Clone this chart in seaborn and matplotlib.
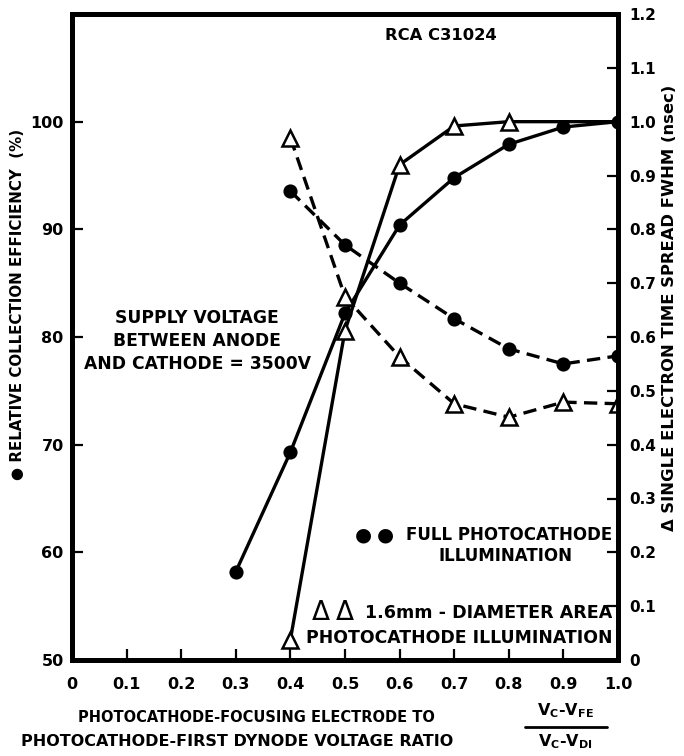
import matplotlib
matplotlib.use("Agg")
import matplotlib.pyplot as plt
import seaborn as sns

# voltage ratio (Vc-Vfe)/(Vc-Vd1)
ratio_full = [0.3, 0.4, 0.5, 0.6, 0.7, 0.8, 0.9, 1.0]
ratio_spot = [0.4, 0.5, 0.6, 0.7, 0.8, 1.0]
ratio_tts = [0.4, 0.5, 0.6, 0.7, 0.8, 0.9, 1.0]

# relative collection efficiency (%), left axis
eff_full = [58.2, 69.3, 82.2, 90.4, 94.8, 97.9, 99.5, 100.0]
eff_spot = [51.9, 80.6, 96.0, 99.6, 100.0, 100.0]

# single electron time spread FWHM (nsec), right axis
tts_full = [0.871, 0.771, 0.700, 0.634, 0.578, 0.550, 0.565]
tts_spot = [0.970, 0.675, 0.563, 0.476, 0.451, 0.479, 0.476]

x_ticks = [0, 0.1, 0.2, 0.3, 0.4, 0.5, 0.6, 0.7, 0.8, 0.9, 1.0]
x_labels = ["0", "0.1", "0.2", "0.3", "0.4", "0.5", "0.6", "0.7", "0.8", "0.9", "1.0"]
eff_ticks = [50, 60, 70, 80, 90, 100]
tts_ticks = [0, 0.1, 0.2, 0.3, 0.4, 0.5, 0.6, 0.7, 0.8, 0.9, 1.0, 1.1, 1.2]
tts_labels = ["0", "0.1", "0.2", "0.3", "0.4", "0.5", "0.6", "0.7", "0.8", "0.9", "1.0", "1.1", "1.2"]

sns.set_style("ticks", {"axes.edgecolor": "black", "text.color": "black",
                        "xtick.color": "black", "ytick.color": "black",
                        "axes.labelcolor": "black"})
plt.rcParams["font.family"] = ["DejaVu Sans"]
plt.rcParams["font.weight"] = "bold"

W, H = 684, 756
fig = plt.figure(figsize=(W / 100, H / 100), dpi=100)
ax = fig.add_axes([72 / W, 96 / H, 546 / W, 646 / H])
ax2 = ax.twinx()

solid = dict(color="black", lw=2.4)
dashed = dict(color="black", lw=2.4, linestyle=(0, (4, 2.2)))
dot = dict(marker="o", markersize=9, markeredgecolor="black", markeredgewidth=1.2,
           markerfacecolor="black")
tri = dict(marker="^", markersize=12, markeredgecolor="black", markeredgewidth=1.8,
           markerfacecolor="white")

sns.lineplot(x=ratio_full, y=eff_full, ax=ax, **solid, **dot)
sns.lineplot(x=ratio_spot, y=eff_spot, ax=ax, markevery=[0, 1, 2, 3, 4], **solid, **tri)
sns.lineplot(x=ratio_tts, y=tts_full, ax=ax2, **dashed, **dot)
sns.lineplot(x=ratio_tts, y=tts_spot, ax=ax2, **dashed, **tri)

ax.set_xlim(0, 1.0)
ax.set_ylim(50, 110)
ax2.set_ylim(0, 1.2)

ax.set_xticks(x_ticks)
ax.set_xticklabels(x_labels)
ax.set_yticks(eff_ticks)
ax2.set_yticks(tts_ticks)
ax2.set_yticklabels(tts_labels)

for a in (ax, ax2):
    for s in a.spines.values():
        s.set_linewidth(3.5)
        s.set_color("black")
        s.set_visible(True)
    a.tick_params(direction="in", length=8, width=1.6, labelsize=11.5, colors="black")
ax.tick_params(axis="x", pad=12)
ax.tick_params(axis="y", pad=6)
ax2.tick_params(axis="y", pad=8, labelsize=11)


def ftext(px, py, s, **kw):
    kw.setdefault("fontweight", "bold")
    fig.text(px / W, 1 - py / H, s, color="black", **kw)


ftext(18, 304, "● RELATIVE COLLECTION EFFICIENCY  (%)", rotation=90,
      ha="center", va="center", fontsize=10.8)
ftext(670, 308, "Δ SINGLE ELECTRON TIME SPREAD FWHM (nsec)", rotation=90,
      ha="center", va="center", fontsize=11.8)
ftext(256, 717, "PHOTOCATHODE-FOCUSING ELECTRODE TO", ha="center", va="center", fontsize=10.5)
ftext(237, 742, "PHOTOCATHODE-FIRST DYNODE VOLTAGE RATIO", ha="center", va="center",
      fontsize=11.5)
ftext(565, 711, r"V$_\mathregular{C}$-V$_\mathregular{FE}$", ha="center", va="center",
      fontsize=11.5)
ftext(565, 742, r"V$_\mathregular{C}$-V$_\mathregular{DI}$", ha="center", va="center",
      fontsize=11.5)
fig.add_artist(plt.Line2D([525 / W, 607 / W], [1 - 727 / H, 1 - 727 / H],
                          color="black", lw=2))

ftext(441, 36, "RCA C31024", ha="center", va="center", fontsize=11.8)
ftext(197, 341, "SUPPLY VOLTAGE\nBETWEEN ANODE\nAND CATHODE = 3500V", ha="center",
      va="center", fontsize=12.3, linespacing=1.35)

# legend notes
ftext(363, 535, "●", ha="center", va="center", fontsize=14)
ftext(385, 535, "●", ha="center", va="center", fontsize=14)
ftext(612, 535, "FULL PHOTOCATHODE", ha="right", va="center", fontsize=12)
ftext(505, 556, "ILLUMINATION", ha="center", va="center", fontsize=12)
ftext(321, 613, "Δ", ha="center", va="center", fontsize=19, fontweight="normal")
ftext(345, 613, "Δ", ha="center", va="center", fontsize=19, fontweight="normal")
ftext(612, 613, "1.6mm - DIAMETER AREA", ha="right", va="center", fontsize=12.6)
ftext(612, 638, "PHOTOCATHODE ILLUMINATION", ha="right", va="center", fontsize=12.4)

fig.savefig("out.png", dpi=100)
